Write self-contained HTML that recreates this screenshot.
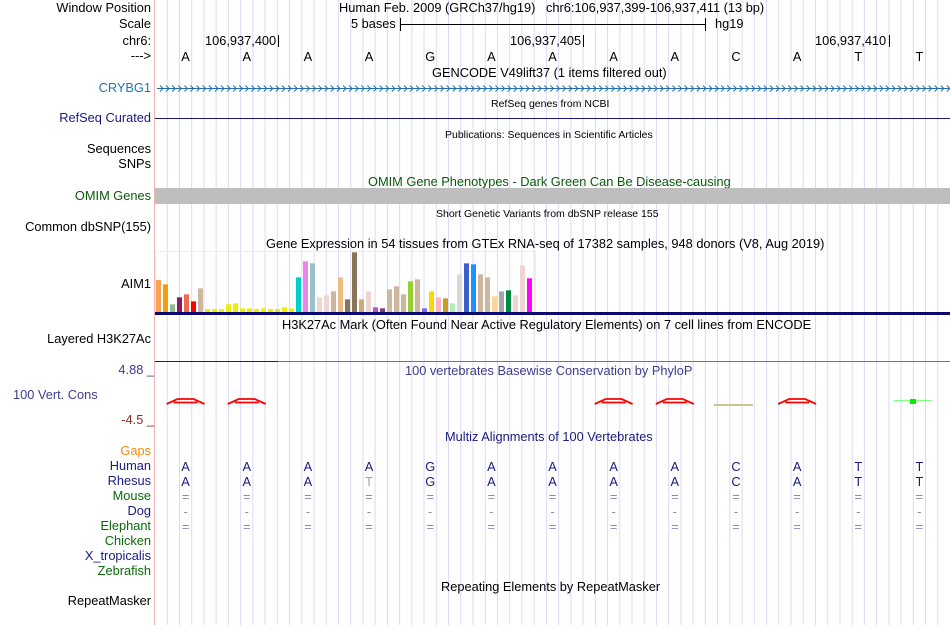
<!DOCTYPE html>
<html><head><meta charset="utf-8">
<style>
body{margin:0;width:950px;height:625px;background:#fff;overflow:hidden;position:relative;font-family:"Liberation Sans",sans-serif;font-size:12.8px;}
.t{position:absolute;white-space:nowrap;line-height:14px;}
.l{position:absolute;right:799px;white-space:nowrap;line-height:14px;text-align:right;}
.s{font-size:10.5px;}
</style></head>
<body>
<svg id="grid" width="950" height="625" style="position:absolute;left:0;top:0"></svg>
<div class="l" style="top:1px">Window Position</div>
<div class="l" style="top:17px">Scale</div>
<div class="l" style="top:34px">chr6:</div>
<div class="l" style="top:49px">---&gt;</div>
<div class="l" style="top:81px;color:#1f78b4">CRYBG1</div>
<div class="l" style="top:111px;color:#1a1a80">RefSeq Curated</div>
<div class="l" style="top:142px">Sequences</div>
<div class="l" style="top:157px">SNPs</div>
<div class="l" style="top:189px;color:#0a5a0a">OMIM Genes</div>
<div class="l" style="top:220px">Common dbSNP(155)</div>
<div class="l" style="top:277px">AIM1</div>
<div class="l" style="top:332px">Layered H3K27Ac</div>
<div class="l" style="top:363px;color:#3c3c8c;right:796px">4.88 _</div>
<div class="t" style="top:388px;left:13px;color:#3c3c8c">100 Vert. Cons</div>
<div class="l" style="top:413px;color:#8c2a2a;right:796px">-4.5 _</div>
<div class="l" style="top:444px;color:#f08c10">Gaps</div>
<div class="l" style="top:459px;color:#1a1a80">Human</div>
<div class="l" style="top:474px;color:#1a1a80">Rhesus</div>
<div class="l" style="top:489px;color:#0a6a0a">Mouse</div>
<div class="l" style="top:504px;color:#1a1a80">Dog</div>
<div class="l" style="top:519px;color:#0a6a0a">Elephant</div>
<div class="l" style="top:534px;color:#0a6a0a">Chicken</div>
<div class="l" style="top:549px;color:#1a1a80">X_tropicalis</div>
<div class="l" style="top:564px;color:#0a6a0a">Zebrafish</div>
<div class="l" style="top:594px">RepeatMasker</div>

<div class="t" style="top:1px;left:339px">Human Feb. 2009 (GRCh37/hg19)&nbsp;&nbsp; chr6:106,937,399-106,937,411 (13 bp)</div>
<div class="t" style="top:17px;left:351px">5 bases</div>
<div class="t" style="top:17px;left:715px">hg19</div>
<div class="t" style="top:34px;left:205px">106,937,400</div>
<div class="t" style="top:34px;left:510px">106,937,405</div>
<div class="t" style="top:34px;left:815px">106,937,410</div>
<div class="t" style="top:66px;left:432px">GENCODE V49lift37 (1 items filtered out)</div>
<div class="t s" style="top:97px;left:491px">RefSeq genes from NCBI</div>
<div class="t s" style="top:128px;left:445px">Publications: Sequences in Scientific Articles</div>
<div class="t" style="top:175px;left:368px;color:#0a5a0a">OMIM Gene Phenotypes - Dark Green Can Be Disease-causing</div>
<div class="t s" style="top:207px;left:436px">Short Genetic Variants from dbSNP release 155</div>
<div class="t" style="top:237px;left:266px">Gene Expression in 54 tissues from GTEx RNA-seq of 17382 samples, 948 donors (V8, Aug 2019)</div>
<div class="t" style="top:318px;left:282px">H3K27Ac Mark (Often Found Near Active Regulatory Elements) on 7 cell lines from ENCODE</div>
<div class="t" style="top:364px;left:405px;color:#3c3c8c">100 vertebrates Basewise Conservation by PhyloP</div>
<div class="t" style="top:430px;left:445px;color:#1a1a80">Multiz Alignments of 100 Vertebrates</div>
<div class="t" style="top:580px;left:441px">Repeating Elements by RepeatMasker</div>

<svg id="chart" width="950" height="625" style="position:absolute;left:0;top:0"></svg>

<script>
const bases=["A","A","A","A","G","A","A","A","A","C","A","T","T"];
const rhesus=["A","A","A","T","G","A","A","A","A","C","A","T","T"];
const mouse=["=","=","=","=","=","=","=","=","=","=","=","=","="];
const dog=["-","-","-","-","-","-","-","-","-","-","-","-","-"];
const elephant=["=","=","=","=","=","=","=","=","=","=","=","=","="];
const gtexValues=[96,83,23,44,53,32,71,9,9,9,23,26,11,11,9,11,9,9,14,11,104,152,146,44,50,62,104,38,179,38,62,14,11,68,77,53,92,98,11,62,44,41,26,113,146,143,113,104,47,62,65,50,140,101];
const gtexColors=["#f7a24f","#f39c12","#8fbc8f","#8b1c62","#ee6a50","#ff0000","#cdb79e","#eeee00","#eeee00","#eeee00","#eeee00","#eeee00","#eeee00","#eeee00","#eeee00","#eeee00","#eeee00","#eeee00","#eeee00","#eeee00","#00cdcd","#ee82ee","#9ac0cd","#eed5d2","#eed5d2","#cdb79e","#eebb82","#8b7355","#8b7355","#cdaa7d","#eed5d2","#b452cd","#7a378b","#cdb79e","#cdb79e","#cdb79e","#9acd32","#cdb79e","#7b68ee","#ffd700","#ffb6c1","#cd9b1d","#b4eeb4","#d9d9d9","#3a5fcd","#1e90ff","#cdb79e","#cdb79e","#ffd39b","#a6a6a6","#008b45","#eed5d2","#eed5d2","#ff00ff"];
const consBumps=[1,2,8,9,11];
const NS="http://www.w3.org/2000/svg";
const x0=155,bw=795/13;
const bx=i=>x0+bw*(i+0.5);
const gy=v=>312-v/3;
function el(p,tag,a){const e=document.createElementNS(NS,tag);for(const k in a)e.setAttribute(k,a[k]);p.appendChild(e);return e;}
const g=document.getElementById('grid');
for(let k=1;k<65;k++){const x=x0+k*bw/5;
const ln=el(g,'line',{x1:x,x2:x,y1:0,y2:625,stroke:'#dcdaf4','stroke-width':1});

}
const pk=el(g,'line',{x1:154.5,x2:154.5,y1:0,y2:625,stroke:'#f5b4b4'});


const c=document.getElementById('chart');
el(c,'line',{x1:400,x2:706,y1:24.5,y2:24.5,stroke:'#000'});
el(c,'line',{x1:400.5,x2:400.5,y1:18,y2:31,stroke:'#000'});
el(c,'line',{x1:705.5,x2:705.5,y1:18,y2:31,stroke:'#000'});
[278.5,583.5,889.5].forEach(x=>el(c,'line',{x1:x,x2:x,y1:35,y2:47,stroke:'#000'}));
function txt(x,y,s,fill,name){const t=el(c,'text',{x:x,y:y,'text-anchor':'middle',fill:fill,'font-size':12.8,'font-family':'Liberation Sans, sans-serif'});t.textContent=s;

}
bases.forEach((b,i)=>{txt(bx(i),61,b,'#000','base-letter');txt(bx(i),471,b,'#1a1a80','human-base');});
rhesus.forEach((b,i)=>txt(bx(i),486,b,b===bases[i]?'#1a1a80':'#a0a0c8','rhesus-base'));
mouse.forEach((b,i)=>txt(bx(i),501,b,'#8888bb','mouse-base'));
dog.forEach((b,i)=>txt(bx(i),516,b,'#8888bb','dog-base'));
elephant.forEach((b,i)=>txt(bx(i),531,b,'#8888bb','elephant-base'));
el(c,'line',{x1:157,x2:950,y1:88.5,y2:88.5,stroke:'#1f6fb0'});
let p='';for(let x=160;x<950;x+=6.1){p+=`M${x},85.5 L${x+3},88.5 L${x},91.5 `;}
el(c,'path',{d:p,stroke:'#1f6fb0',fill:'none','stroke-width':1});
el(c,'line',{x1:155,x2:950,y1:118.5,y2:118.5,stroke:'#1a1a80'});
const om=el(c,'rect',{x:155,y:188,width:795,height:16,fill:'#bebebe'});


el(c,'rect',{x:155.5,y:251.5,width:380,height:61,fill:'none',stroke:'#eee'});
gtexValues.forEach((v,i)=>{const r=el(c,'rect',{x:156+i*7,y:gy(v),width:5,height:312-gy(v),fill:gtexColors[i]});

});
el(c,'rect',{x:155,y:312,width:795,height:3,fill:'#0a0a70'});
el(c,'line',{x1:155,x2:278,y1:361.5,y2:361.5,stroke:'#1a1a80'});
el(c,'line',{x1:278,x2:950,y1:361.5,y2:361.5,stroke:'#6e6eb4'});
consBumps.forEach(i=>{const x=bx(i-1);const pa=el(c,'path',{d:`M${x-19},404 L${x-8},399 L${x+8},399 L${x+19},404 M${x-12},402.5 L${x+12},402.5`,stroke:'#f00','stroke-width':1.8,fill:'none'});

});
el(c,'line',{x1:714,x2:753,y1:405,y2:405,stroke:'#c8c88c','stroke-width':2});
el(c,'line',{x1:894,x2:932,y1:400.5,y2:400.5,stroke:'#7fff7f'});
el(c,'rect',{x:910,y:399,width:6,height:5,fill:'#00ee00'});
</script>
</body></html>
